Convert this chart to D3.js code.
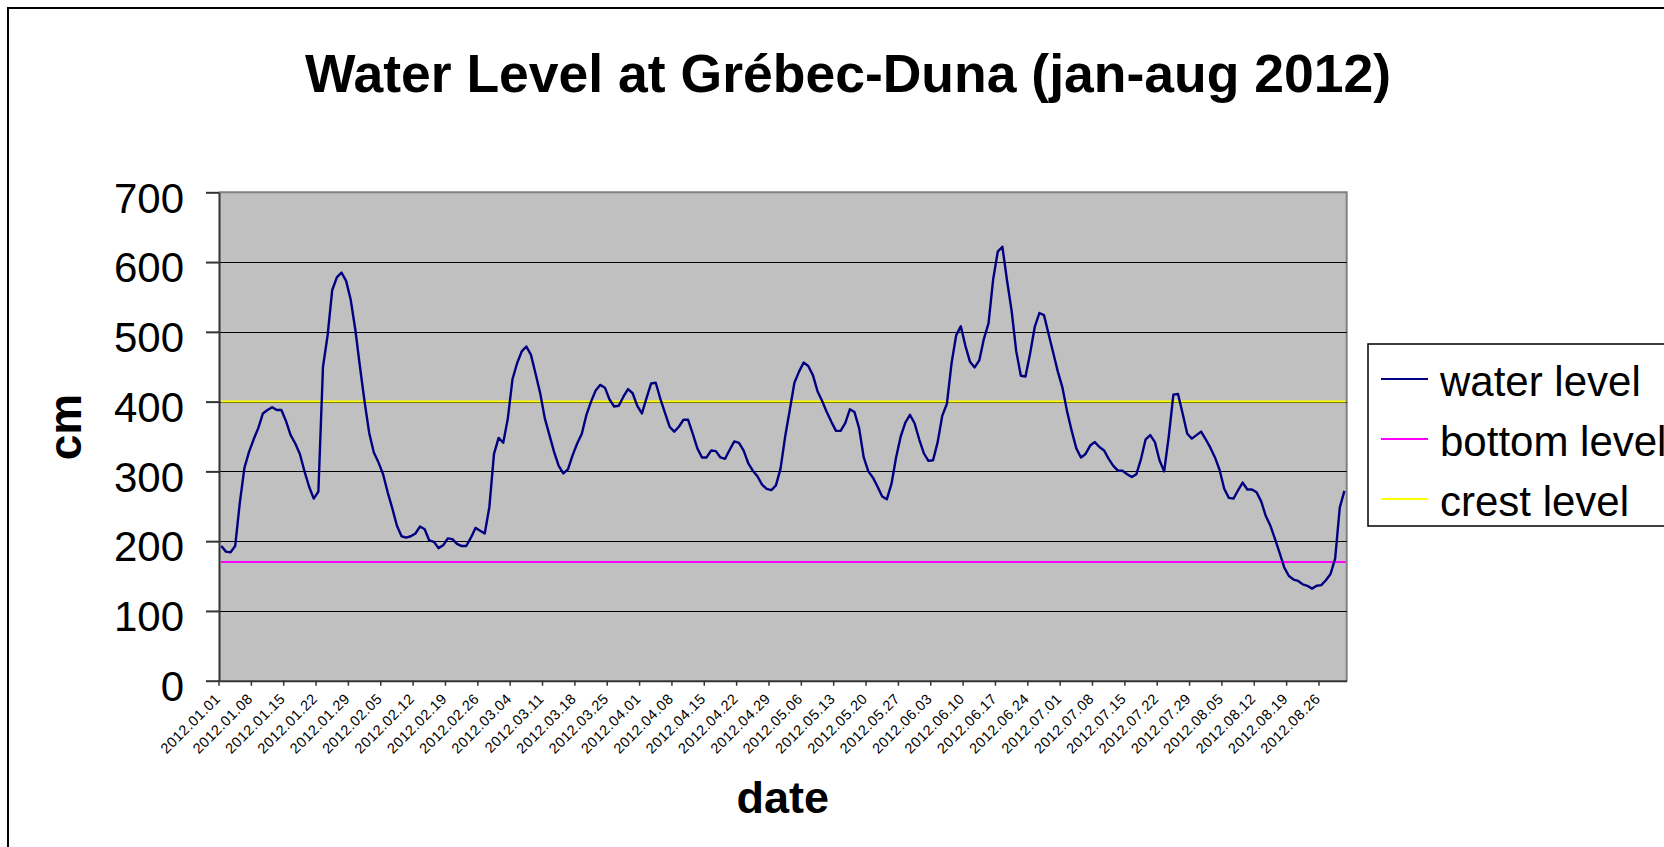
<!DOCTYPE html>
<html><head><meta charset="utf-8">
<script src="https://cdn.jsdelivr.net/npm/d3@7"></script>
<style>
body{margin:0;background:#fff;overflow:hidden;}
svg{display:block;font-family:"Liberation Sans",Arial,sans-serif;}
</style>
</head><body><svg id="c" width="1664" height="847"></svg>
<script>
// ---- data (cm), one value per day ----
const janValues = [193,185,184,193,255,305,328,346,362,383,388,392,388,388,372,352,340,325,300,278,261,271,450,495,560,578,585,573,546,503,450];
const febValues = [400,355,327,313,296,270,247,222,207,205,207,211,221,217,201,199,190,194,204,203,196,193,193,205,219,215,211,249,325];
const marValues = [348,341,376,432,455,472,479,467,440,412,376,352,328,308,297,303,323,340,354,381,400,416,424,420,403,393,394,407,418,412,394];
const aprValues = [383,405,426,427,404,384,364,357,364,374,374,354,333,320,320,330,329,320,318,331,343,341,330,312,301,293,281,275,273,280];
const mayValues = [304,350,388,427,443,456,451,438,415,401,385,371,358,358,369,389,385,362,320,300,291,278,264,260,282,320,350,370,381,369,346];
const junValues = [326,315,316,342,380,397,455,495,508,480,457,449,459,490,512,575,615,622,574,530,472,437,436,469,507,527,524,497,470,443];
const julValues = [420,386,358,333,320,325,337,342,335,330,318,308,301,301,296,292,296,318,346,352,342,316,300,350,410,411,383,354,347,352,357];
const augValues = [346,334,320,302,275,262,261,273,284,274,274,270,257,236,222,203,183,162,150,145,143,138,136,132,136,137,144,153,175,248,272];

const bottomLevel = 170;
const crestLevel = 400;

const tickLabels = ["2012.01.01","2012.01.08","2012.01.15","2012.01.22","2012.01.29","2012.02.05","2012.02.12","2012.02.19","2012.02.26","2012.03.04","2012.03.11","2012.03.18","2012.03.25","2012.04.01","2012.04.08","2012.04.15","2012.04.22","2012.04.29","2012.05.06","2012.05.13","2012.05.20","2012.05.27","2012.06.03","2012.06.10","2012.06.17","2012.06.24","2012.07.01","2012.07.08","2012.07.15","2012.07.22","2012.07.29","2012.08.05","2012.08.12","2012.08.19","2012.08.26"];
const yTickValues = [0,100,200,300,400,500,600,700];

const seriesNames = ["water level","bottom level","crest level"];
const seriesColors = ["#000080","#FF00FF","#FFFF00"];

const titleText = "Water Level at Grébec-Duna (jan-aug 2012)";
const xTitle = "date";
const yTitle = "cm";

// ---- build ----
const values = [].concat(janValues,febValues,marValues,aprValues,mayValues,junValues,julValues,augValues);
const fmt = d3.timeFormat("%Y.%m.%d");
const categories = d3.timeDay.range(new Date(2012,0,1), new Date(2012,8,1)).map(fmt);
const data = categories.map((c,i)=>({cat:c, v:values[i]}));

const svg = d3.select("#c");
const P = {left:219, right:1346.7, top:192.3, bottom:680.7};

const x = d3.scaleBand().domain(categories).range([P.left, P.right]).padding(0);
const y = d3.scaleLinear().domain([0,700]).range([P.bottom, P.top]);
const bw = x.bandwidth();
const cx = c => x(c) + bw/2;

// chart frame
svg.append("rect").attr("x",8).attr("y",8).attr("width",1720).attr("height",900)
  .attr("fill","#fff").attr("stroke","#000").attr("stroke-width",2);

// title
svg.append("text").attr("x",848).attr("y",92).attr("text-anchor","middle")
  .attr("font-size",53.5).attr("font-weight","bold").text(titleText);

// plot area
svg.append("rect").attr("x",P.left).attr("y",P.top).attr("width",P.right-P.left).attr("height",P.bottom-P.top)
  .attr("fill","#C0C0C0");
svg.append("path").attr("d",`M${P.left},${P.top}H${P.right}V${P.bottom}`)
  .attr("fill","none").attr("stroke","#808080").attr("stroke-width",2);

// gridlines
svg.append("g").selectAll("line").data(yTickValues.filter(d=>d>0 && d<700)).join("line")
  .attr("x1",P.left).attr("x2",P.right).attr("y1",d=>Math.round(y(d))+0.5).attr("y2",d=>Math.round(y(d))+0.5)
  .attr("stroke","#000").attr("stroke-width",1.2);

// y axis
const yAxis = svg.append("g").attr("transform",`translate(${P.left},0)`)
  .call(d3.axisLeft(y).tickValues(yTickValues).tickSize(13).tickPadding(22).tickSizeOuter(0));
yAxis.select(".domain").attr("stroke","#333").attr("stroke-width",2);
yAxis.selectAll(".tick line").attr("stroke","#333").attr("stroke-width",2);
yAxis.selectAll(".tick text").attr("font-size",42).attr("font-family","Liberation Sans, Arial, sans-serif")
  .attr("fill","#000").attr("dy","0.47em");

// x axis
const tickCats = categories.filter((c,i)=>i%7===0);
const xAxis = svg.append("g").attr("transform",`translate(0,${P.bottom})`)
  .call(d3.axisBottom(x).tickValues(tickCats).tickSize(5).tickSizeOuter(0)
    .tickFormat((c)=>tickLabels[categories.indexOf(c)/7]));
xAxis.select(".domain").attr("stroke","#333").attr("stroke-width",2);
xAxis.selectAll(".tick line").attr("stroke","#333").attr("stroke-width",1.5)
  .attr("x1",-bw/2).attr("x2",-bw/2);
xAxis.selectAll(".tick text")
  .attr("font-size",14.5).attr("font-family","Liberation Sans, Arial, sans-serif").attr("fill","#000")
  .attr("text-anchor","end").attr("y",null).attr("dy",null)
  .attr("letter-spacing","0.5px")
  .attr("transform","translate(0,19) rotate(-45)");

// reference lines
svg.append("path").datum([data[0], data[data.length-1]]).attr("d",
  d3.line().x((d,i)=> i===0 ? P.left+2 : P.right-1).y(()=>y(bottomLevel)))
  .attr("fill","none").attr("stroke",seriesColors[1]).attr("stroke-width",2);
svg.append("path").datum([data[0], data[data.length-1]]).attr("d",
  d3.line().x((d,i)=> i===0 ? P.left+2 : P.right-1).y(()=>y(crestLevel)))
  .attr("fill","none").attr("stroke",seriesColors[2]).attr("stroke-width",2);

// water level line
svg.append("path").datum(data)
  .attr("d", d3.line().x(d=>cx(d.cat)).y(d=>y(d.v)))
  .attr("fill","none").attr("stroke",seriesColors[0]).attr("stroke-width",2.4)
  .attr("stroke-linejoin","round");

// axis titles
svg.append("text").attr("transform","translate(81,427) rotate(-90)").attr("text-anchor","middle")
  .attr("font-size",46).attr("font-weight","bold").text(yTitle);
svg.append("text").attr("x",(P.left+P.right)/2).attr("y",813).attr("text-anchor","middle")
  .attr("font-size",45).attr("font-weight","bold").text(xTitle);

// legend
const lg = svg.append("g");
lg.append("rect").attr("x",1368).attr("y",344).attr("width",320).attr("height",182)
  .attr("fill","#fff").attr("stroke","#000").attr("stroke-width",1.5);
seriesNames.forEach((n,i)=>{
  const yy = 379 + i*60;
  lg.append("line").attr("x1",1381).attr("x2",1428).attr("y1",yy).attr("y2",yy)
    .attr("stroke",seriesColors[i]).attr("stroke-width",2);
  lg.append("text").attr("x",1440).attr("y",396+i*60).attr("font-size",42).text(n);
});
</script>
</body></html>
